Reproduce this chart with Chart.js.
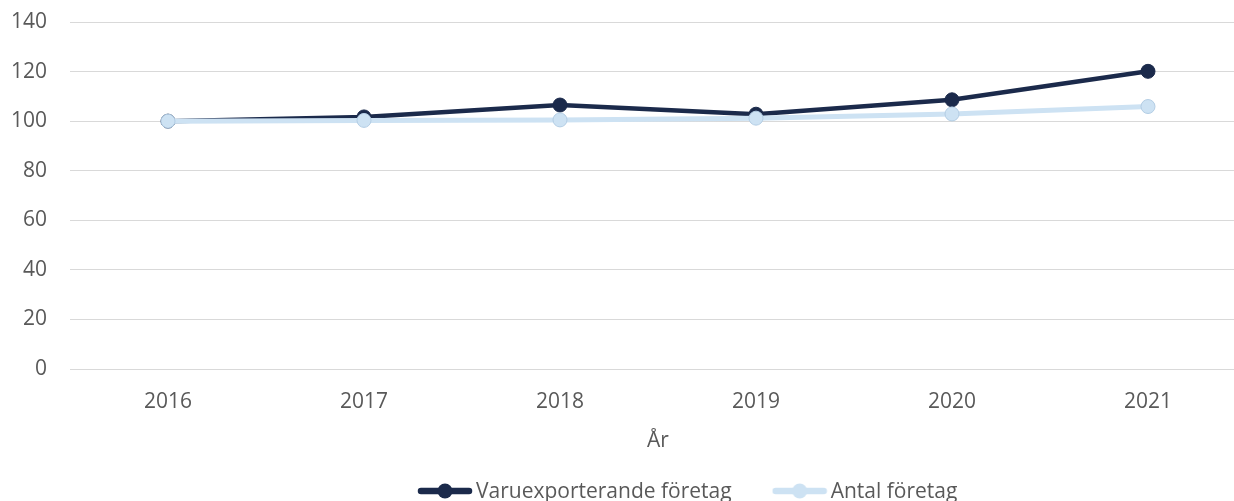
<!DOCTYPE html>
<html><head><meta charset="utf-8">
<script src="https://cdn.jsdelivr.net/npm/chart.js@4"></script>
<style>
html,body{margin:0;padding:0;overflow:hidden;background:#fff;width:1234px;height:501px}
#wrap{position:absolute;left:0;top:0;width:1300px;height:501px}
</style>
</head><body><div id="wrap"><canvas id="c" width="1300" height="501"></canvas></div>
<script>
const years = ['2016','2017','2018','2019','2020','2021'];
const varuexport = [100, 101.7, 106.5, 102.8, 108.6, 120.1];
const antalForetag = [100, 100.3, 100.5, 101.2, 102.9, 105.9];
const yTicks = [0, 20, 40, 60, 80, 100, 120, 140];
const seriesNames = ['Varuexporterande företag', 'Antal företag'];
const axisTitle = 'År';

const DARK = '#1b2a4b', LIGHT = '#cde2f3', TXT = '#595959', GRID = '#d9d9d9';
const FONT = "'Open Sans', 'Noto Sans', sans-serif";
const FS = 21;
const LEG_PAD = 47.5;

function legendSymbol(color, lw, r) {
  const c = document.createElement('canvas');
  c.width = 56; c.height = 28;
  const g = c.getContext('2d');
  const cy = 13;
  g.strokeStyle = color; g.lineWidth = lw; g.lineCap = 'round';
  g.beginPath(); g.moveTo(4, cy); g.lineTo(52, cy); g.stroke();
  g.beginPath(); g.arc(28, cy, r, 0, Math.PI * 2); g.fillStyle = color; g.fill();
  return c;
}
const symbols = [legendSymbol(DARK, 6.5, 7.5), legendSymbol(LIGHT, 6.5, 7.5)];

const legendPlacer = {
  id: 'legendPlacer',
  beforeLayout(chart) {
    const L = chart.legend;
    if (L && !L._patched) {
      const orig = L.fit;
      L.fit = function () { orig.call(this); this.height = 46; };
      L._patched = true;
    }
  },
  afterLayout(chart) {
    const L = chart.legend;
    if (!L) return;
    L.left = 377; L.right = 1300;
    L.top = 434; L.bottom = 501;
  }
};

new Chart(document.getElementById('c'), {
  type: 'line',
  data: {
    labels: years,
    datasets: [
      {
        label: seriesNames[0], data: varuexport, order: 1,
        borderColor: DARK, backgroundColor: DARK, borderWidth: 4.5,
        pointRadius: 7, pointBorderWidth: 1, pointBackgroundColor: DARK, pointBorderColor: DARK,
        tension: 0
      },
      {
        label: seriesNames[1], data: antalForetag, order: 0,
        borderColor: LIGHT, backgroundColor: LIGHT, borderWidth: 5,
        pointRadius: 7, pointBorderWidth: 1, pointBackgroundColor: LIGHT, pointBorderColor: '#b3cde4',
        tension: 0
      }
    ]
  },
  options: {
    responsive: false,
    animation: false,
    layout: { padding: { top: 22, right: 54, bottom: 0, left: 0 } },
    plugins: {
      tooltip: { enabled: false },
      legend: {
        position: 'bottom',
        align: 'start',
        labels: {
          usePointStyle: true,
          pointStyleWidth: 41,
          padding: LEG_PAD,
          color: TXT,
          font: { family: FONT, size: FS },
          sort: (a, b) => a.datasetIndex - b.datasetIndex,
          generateLabels: (chart) => {
            const items = Chart.defaults.plugins.legend.labels.generateLabels(chart);
            items.forEach(it => { it.pointStyle = symbols[it.datasetIndex]; });
            return items;
          }
        }
      }
    },
    scales: {
      x: {
        offset: true,
        grid: { display: false, drawTicks: false },
        border: { display: false },
        ticks: { color: TXT, font: { family: FONT, size: FS }, padding: 20, maxRotation: 0 },
        title: { display: true, text: axisTitle, color: TXT, font: { family: FONT, size: FS }, padding: { top: 0, bottom: 1.4 } },
        afterFit: (s) => { s.height = 86; }
      },
      y: {
        min: 0, max: 140,
        afterBuildTicks: (s) => { s.ticks = yTicks.map(v => ({ value: v })); },
        grid: { color: GRID, lineWidth: 1, drawTicks: false },
        border: { display: false },
        ticks: { color: TXT, font: { family: FONT, size: FS }, padding: 23 },
        afterFit: (s) => { s.width = 70; s.paddingTop = 0; s.paddingBottom = 0; }
      }
    }
  },
  plugins: [legendPlacer]
});
</script>
</body></html>
